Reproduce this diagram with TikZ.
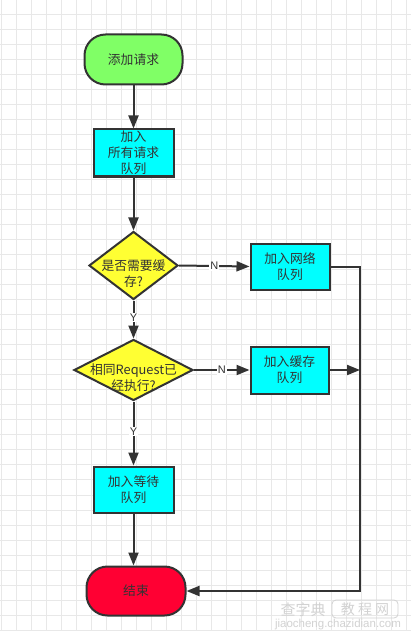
\documentclass[tikz,border=0pt]{standalone}
\usepackage{fontspec}
\setmainfont{Noto Sans CJK SC}
\newfontfamily\latinlab{Liberation Sans}
\usetikzlibrary{arrows.meta,shapes.geometric}
\definecolor{edgec}{HTML}{333333}
\definecolor{gridc}{HTML}{E8E8E8}
\definecolor{startg}{HTML}{80FF66}
\definecolor{procc}{HTML}{00FFFF}
\definecolor{decc}{HTML}{FFFF33}
\definecolor{endr}{HTML}{FF0033}
\definecolor{wmc}{HTML}{D2D2D2}
\tikzset{
  txt/.style={font=\fontsize{12.8}{16}\selectfont, text=edgec, align=center},
  term/.style={draw=edgec, line width=2pt, rounded corners=21pt, inner sep=0pt, txt},
  proc/.style={draw=edgec, line width=2pt, fill=procc, inner sep=0pt, txt},
  dec/.style={diamond, draw=edgec, line width=2pt, fill=decc, inner sep=0pt},
  arr/.style={draw=edgec, line width=2pt, -{Triangle[length=13pt,width=10pt]}},
  lab/.style={font=\latinlab\fontsize{11}{11}\selectfont, text=edgec, fill=white, inner sep=1pt},
  wm/.style={text=wmc, inner sep=0pt}
}
\begin{document}
\begin{tikzpicture}[x=1pt,y=-1pt]
\useasboundingbox (0,0) rectangle (411,631);
\fill[white] (0,0) rectangle (411,631);
\foreach \i in {0,...,27} \draw[gridc, line width=0.9pt] ({1+15.03*\i},0) -- ({1+15.03*\i},631);
\foreach \j in {0,...,41} \draw[gridc, line width=0.9pt] (0,{14+15.03*\j}) -- (411,{14+15.03*\j});

\node[term, fill=startg, minimum width=98pt, minimum height=50pt] (start) at (133.5,59.5) {添加请求};
\node[proc, minimum width=80pt, minimum height=47pt] (q1) at (133.5,153) {加入\\所有请求\\队列};
\node[dec, minimum width=89pt, minimum height=68pt] (d1) at (133.5,265.5) {};
\node[txt] (d1t) at (133.5,274) {是否需要缓\\存?};
\node[proc, minimum width=79pt, minimum height=46pt] (net) at (290,266.5) {加入网络\\队列};
\node[dec, minimum width=119pt, minimum height=61pt] (d2) at (133.5,370) {};
\node[txt] (d2t) at (133.5,377.5) {相同Request已\\经执行?};
\node[proc, minimum width=78pt, minimum height=47pt] (cache) at (289.5,370) {加入缓存\\队列};
\node[proc, minimum width=80pt, minimum height=46pt] (wait) at (133.5,489.5) {加入等待\\队列};
\node[term, fill=endr, minimum width=99pt, minimum height=49pt] (end) at (136,591) {结束};
\coordinate (rc) at (360,591);

\draw[arr] (start) -- (q1);
\draw[arr] (q1) -- (d1);
\draw[arr] (d1) -- node[lab, pos=0.45] (y1) {Y} (d2);
\draw[arr] (d1.east) -- node[lab] (n1) {N} (net.west);
\draw[arr] (d2.east) -- node[lab] (n2) {N} (cache.west);
\draw[arr] (d2) -- node[lab, pos=0.47] (y2) {Y} (wait);
\draw[arr] (wait.south) -- (wait.south |- end.north);
\draw[arr] (net.east) -| (rc) -- (end.east);
\draw[arr] (cache.east) -- (cache.east -| rc);

\node[wm, font=\fontsize{15}{15}\selectfont] (wm1) at (303,610) {查字典};
\node[wm, draw=wmc, line width=0.8pt, rounded corners=4pt, minimum width=66pt, minimum height=18pt, font=\fontsize{14}{14}\selectfont] (wm2) at (365,609) {教\ 程\ 网};
\node[wm, font=\latinlab\fontsize{11.5}{11.5}\selectfont] (wm3) at (338,625) {jiaocheng.chazidian.com};
\end{tikzpicture}
\end{document}
